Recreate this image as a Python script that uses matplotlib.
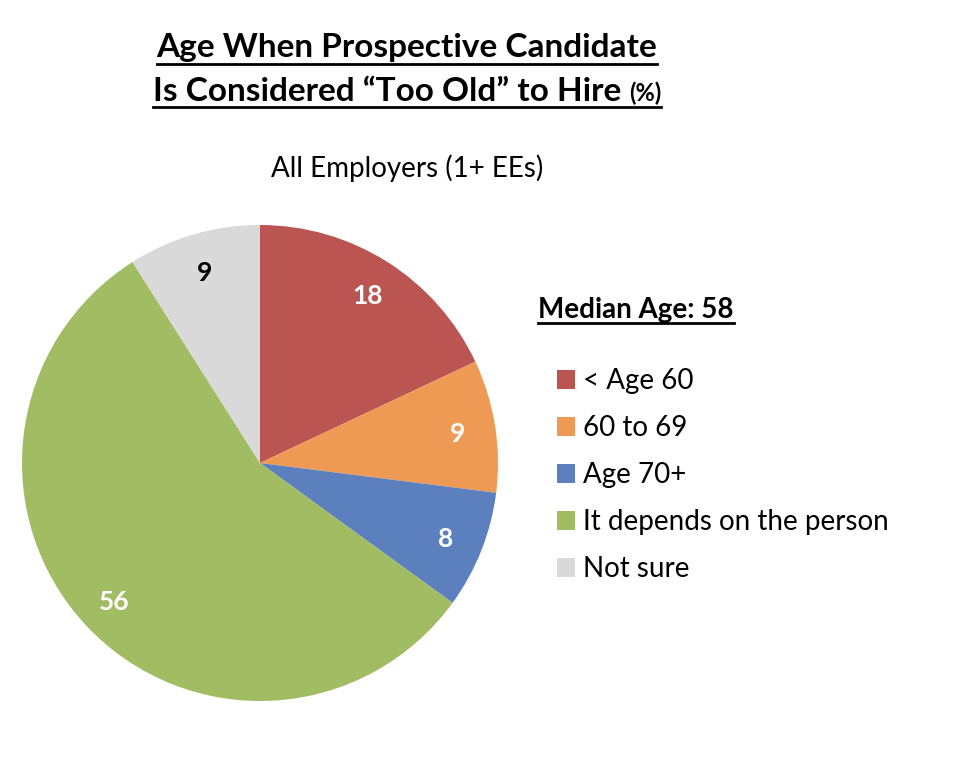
import matplotlib.pyplot as plt
import numpy as np

labels = ['< Age 60', '60 to 69', 'Age 70+', 'It depends on the person', 'Not sure']
values = [18, 9, 8, 56, 9]
colors = ['#BA5551', '#EE9A55', '#5B80BD', '#A2BC63', '#D9D9D9']
label_colors = ['white', 'white', 'white', 'white', 'black']

plt.rcParams['font.family'] = ['Lato', 'DejaVu Sans']

fig = plt.figure(figsize=(9.6, 7.64), dpi=100)
W, H = 960, 764

# pie axes: centre (260, 463) px, radius 238 px
cx, cy, r = 260, 463, 238
ax = fig.add_axes([(cx - r) / W, (H - cy - r) / H, 2 * r / W, 2 * r / H])
wedges, _ = ax.pie(values, colors=colors, startangle=90, counterclock=False,
                   radius=1, wedgeprops=dict(linewidth=0))
ax.set_xlim(-1, 1)
ax.set_ylim(-1, 1)
ax.set_aspect('equal')

for w, v, c in zip(wedges, values, label_colors):
    ang = np.deg2rad((w.theta1 + w.theta2) / 2)
    ax.text(0.84 * np.cos(ang), 0.84 * np.sin(ang), str(v), ha='center',
            va='center_baseline', fontsize=19, fontweight='bold', color=c)

fig.canvas.draw()
renderer = fig.canvas.get_renderer()


def hline(x0, x1, y, lw=2):
    fig.add_artist(plt.Line2D([x0 / W, x1 / W], [1 - y / H, 1 - y / H], color='black',
                              lw=lw, transform=fig.transFigure))


# title
t1 = fig.text(407 / W, 1 - 57 / H, 'Age When Prospective Candidate', ha='center',
              va='baseline', fontsize=24, fontweight='bold')
t2a = fig.text(0, 1 - 101 / H, 'Is Considered \u201cToo Old\u201d to Hire ', ha='left',
               va='baseline', fontsize=24, fontweight='bold')
t2b = fig.text(0, 1 - 101 / H, '(%)', ha='left', va='baseline', fontsize=17, fontweight='bold')
fig.canvas.draw()
wa = t2a.get_window_extent(renderer).width
wb = t2b.get_window_extent(renderer).width
x0 = 407 - (wa + wb) / 2
t2a.set_x(x0 / W)
t2b.set_x((x0 + wa) / W)
fig.canvas.draw()
bb1 = t1.get_window_extent(renderer)
hline(bb1.x0, bb1.x1, 64)
bb_a = t2a.get_window_extent(renderer)
bb_b = t2b.get_window_extent(renderer)
hline(bb_a.x0, bb_b.x1, 107)

fig.text(407 / W, 1 - 168 / H, 'All Employers (1+ EEs)', ha='center', va='center', fontsize=20)

med = fig.text(538 / W, 1 - 318 / H, 'Median Age: 58', ha='left', va='baseline',
               fontsize=20, fontweight='bold')
fig.canvas.draw()
bbm = med.get_window_extent(renderer)
hline(bbm.x0, bbm.x1, 323)

leg = fig.legend(wedges, labels, loc='upper left', bbox_to_anchor=(557 / W, 1 - 368 / H),
                 frameon=False, fontsize=20, handlelength=0.65, handleheight=0.65,
                 handletextpad=0.3, labelspacing=0.76, borderpad=0, borderaxespad=0)

fig.savefig('out.png', dpi=100)
